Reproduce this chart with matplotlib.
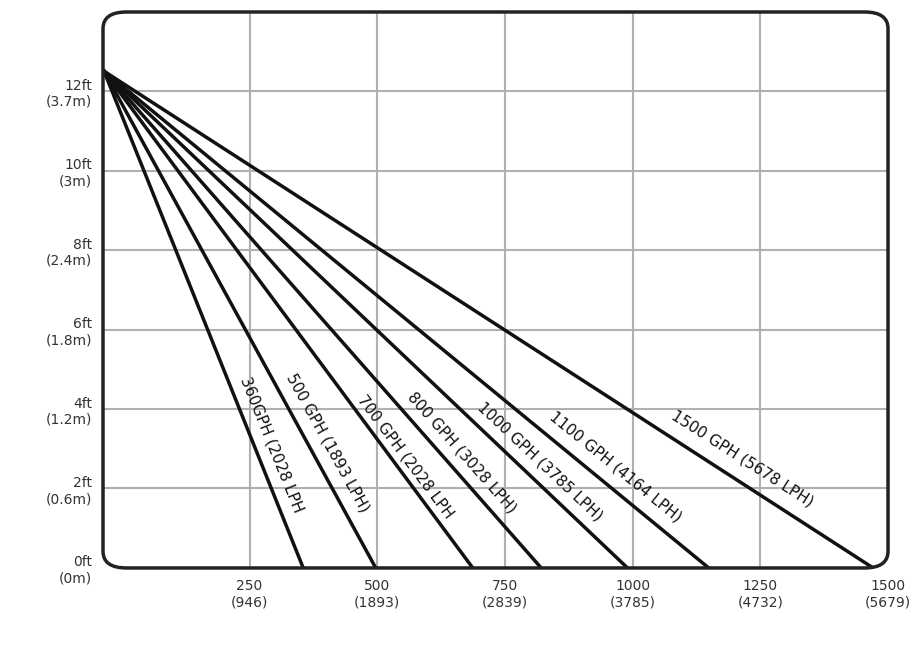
import math
import matplotlib.pyplot as plt
from matplotlib.patches import FancyBboxPatch

# flow lines: start point (height at zero) and end on x-axis
start_x = -35
start_y = 12.5
end_x = [355, 497, 687, 821, 990, 1149, 1471]
labels = ["360GPH (2028 LPH", "500 GPH (1893 LPH)", "700 GPH (2028 LPH",
          "800 GPH (3028 LPH)", "1000 GPH (3785 LPH)", "1100 GPH (4164 LPH)",
          "1500 GPH (5678 LPH)"]
label_x = [226, 316, 455, 553, 690, 831, 1070]
label_y = [4.73, 4.78, 4.2, 4.25, 3.97, 3.72, 3.72]

xticks = [250, 500, 750, 1000, 1250, 1500]
xtick_labels = ["250\n(946)", "500\n(1893)", "750\n(2839)", "1000\n(3785)",
                "1250\n(4732)", "1500\n(5679)"]
yticks = [0, 2, 4, 6, 8, 10, 12]
ytick_labels = ["0ft\n(0m)", "2ft\n(0.6m)", "4ft\n(1.2m)", "6ft\n(1.8m)",
                "8ft\n(2.4m)", "10ft\n(3m)", "12ft\n(3.7m)"]

fig = plt.figure(figsize=(9.23, 6.48), dpi=100)
ax = fig.add_axes([0.1116, 0.1235, 0.8505, 0.858])
ax.set_xlim(-37, 1487)
ax.set_ylim(0, 13.99)

for v in xticks[:-1]:
    ax.axvline(v, color='#b0b0b0', lw=1.5, zorder=1)
for v in yticks[1:]:
    ax.axhline(v, color='#b0b0b0', lw=1.5, zorder=1)

for s in ax.spines.values():
    s.set_visible(False)
box = FancyBboxPatch((0, 0), 1, 1, boxstyle="round,pad=0,rounding_size=0.03",
                     transform=ax.transAxes, fill=False, lw=2.5, ec='#222222',
                     clip_on=False, zorder=5)
ax.add_patch(box)

for ex, lab, lx, ly in zip(end_x, labels, label_x, label_y):
    ax.plot([start_x, ex], [start_y, 0], color='#111111', lw=2.5, zorder=3)
    p1 = ax.transData.transform((start_x, start_y))
    p2 = ax.transData.transform((ex, 0))
    ang = math.degrees(math.atan2(p2[1] - p1[1], p2[0] - p1[0]))
    ax.text(lx, ly, lab, rotation=ang, rotation_mode='anchor', ha='left',
            va='bottom', fontsize=11, color='#111111', zorder=4)

ax.set_xticks(xticks)
ax.set_xticklabels(xtick_labels, fontsize=10, color='#333333')
ax.set_yticks(yticks)
ax.set_yticklabels(ytick_labels, fontsize=10, color='#333333')
ax.tick_params(length=0, pad=8)

fig.savefig("out.png", dpi=100)
